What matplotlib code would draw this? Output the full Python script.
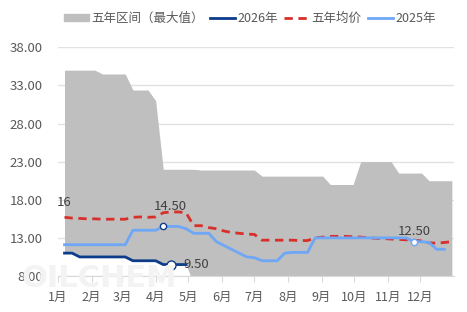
import pandas as pd
import matplotlib
matplotlib.use("Agg")
import matplotlib.pyplot as plt
from matplotlib.patches import Patch
from matplotlib.lines import Line2D
from matplotlib.ticker import FormatStrFormatter

plt.rcParams["font.family"] = ["Noto Sans CJK SC", "DejaVu Sans"]

# weekly observations
weeks = pd.date_range("2026-01-07", periods=52, freq="7D")

# five-year range, top and bottom
range_max = [
    35.0, 35.0, 35.0, 35.0, 35.0, 34.5, 34.5, 34.5, 34.5, 32.4,
    32.4, 32.4, 31.0, 22.0, 22.0, 22.0, 22.0, 22.0, 21.9, 21.9,
    21.9, 21.9, 21.9, 21.9, 21.9, 21.9, 21.1, 21.1, 21.1, 21.1,
    21.1, 21.1, 21.1, 21.1, 21.1, 20.0, 20.0, 20.0, 20.0, 23.0,
    23.0, 23.0, 23.0, 23.0, 21.5, 21.5, 21.5, 21.5, 20.5, 20.5,
    20.5, 20.5,
]
range_min = [
    11.0, 11.0, 10.5, 10.5, 10.5, 10.5, 10.5, 10.5, 10.5, 10.0,
    10.0, 10.0, 10.0, 9.5, 9.5, 9.5, 9.5, 7.0, 7.0, 7.0,
    7.0, 7.0, 7.0, 7.0, 7.0, 7.0, 7.0, 7.0, 7.0, 7.0,
    7.0, 7.0, 7.0, 7.0, 7.0, 7.0, 7.0, 7.0, 7.0, 7.0,
    7.0, 7.0, 7.0, 7.0, 7.0, 7.0, 7.0, 7.0, 7.0, 7.0,
    7.0, 7.0,
]

# five-year average
avg_5y = [
    15.7, 15.6, 15.55, 15.5, 15.5, 15.45, 15.45, 15.45, 15.45, 15.7,
    15.75, 15.7, 15.75, 16.3, 16.4, 16.4, 16.3, 14.6, 14.6, 14.35,
    14.2, 13.9, 13.7, 13.6, 13.5, 13.45, 12.7, 12.7, 12.7, 12.7,
    12.7, 12.65, 12.65, 13.0, 13.1, 13.2, 13.2, 13.2, 13.15, 13.1,
    13.0, 12.95, 12.9, 12.85, 12.8, 12.75, 12.7, 12.6, 12.35, 12.3,
    12.4, 12.5,
]

# 2025
y2025 = [
    12.1, 12.1, 12.1, 12.1, 12.1, 12.1, 12.1, 12.1, 12.1, 14.0,
    14.0, 14.0, 14.0, 14.5, 14.5, 14.5, 14.2, 13.6, 13.6, 13.6,
    12.5, 12.0, 11.5, 11.0, 10.5, 10.4, 10.0, 10.0, 10.0, 11.0,
    11.1, 11.1, 11.1, 13.0, 13.0, 13.0, 13.0, 13.0, 13.0, 13.0,
    13.0, 13.0, 13.0, 13.0, 13.0, 13.0, 12.5, 12.5, 12.4, 11.5,
    11.5, None,
]

# 2026 (so far)
y2026 = [
    11.0, 11.0, 10.5, 10.5, 10.5, 10.5, 10.5, 10.5, 10.5, 10.0,
    10.0, 10.0, 10.0, 9.5, 9.5, 9.5, 9.5,
]

month_starts = pd.date_range("2026-01-01", periods=12, freq="MS")
month_labels = ["1月", "2月", "3月", "4月", "5月", "6月",
                "7月", "8月", "9月", "10月", "11月", "12月"]
y_ticks = [8, 13, 18, 23, 28, 33, 38]

gray = "#bfbfbf"
navy = "#0d3c8a"
red = "#d7302a"
light_blue = "#6ea7f6"
text_color = "#595959"

s2025 = pd.Series(y2025, index=weeks, dtype=float)
s2026 = pd.Series(y2026, index=weeks[:len(y2026)], dtype=float)
s_avg = pd.Series(avg_5y, index=weeks)

fig = plt.figure(figsize=(4.67, 3.12), dpi=100)
ax = fig.add_axes([0.1242, 0.1154, 0.8480, 0.7330])
ax.patch.set_alpha(0)

# faint watermark
fig.text(0.045, 0.08, "OILCHEM", fontsize=22, fontweight="bold",
         color="#f3f3f3", family="DejaVu Sans", zorder=0)

ax.fill_between(weeks, range_min, range_max, color=gray, lw=0, zorder=1)
ax.plot(s_avg.index, s_avg.values, color=red, lw=2.0, ls=(0, (3, 2)), zorder=3)
ax.plot(s2025.index, s2025.values, color=light_blue, lw=2.0, zorder=4)
ax.plot(s2026.index, s2026.values, color=navy, lw=2.0, zorder=5)

# highlighted points
ax.plot(weeks[13], s2025.iloc[13], "o", ms=4.5, mfc="white", mec=navy, mew=1.0, zorder=6)
ax.plot(weeks[14], s2026.iloc[14], "o", ms=6.5, mfc="white", mec=navy, mew=1.0, zorder=6)
ax.plot(weeks[46], s2025.iloc[46], "o", ms=4.5, mfc="white", mec=light_blue, mew=1.0, zorder=6)

ann = dict(textcoords="offset points", ha="center", va="center",
           fontsize=9.5, color="#404040", zorder=7)
ax.annotate("16", xy=(weeks[0], s_avg.iloc[0]), xytext=(0, 11), **ann)
ax.annotate("14.50", xy=(weeks[13], s2025.iloc[13]), xytext=(5, 14), **ann)
ax.annotate("9.50", xy=(weeks[14], s2026.iloc[14]), xytext=(18, 0), **ann)
ax.annotate("12.50", xy=(weeks[46], s2025.iloc[46]), xytext=(0, 7), **ann)

ax.set_xlim(pd.Timestamp("2026-01-01"), pd.Timestamp("2027-01-01"))
ax.set_ylim(8, 38)
ax.set_yticks(y_ticks)
ax.yaxis.set_major_formatter(FormatStrFormatter("%.2f"))
ax.set_xticks(month_starts)
ax.set_xticklabels(month_labels)

ax.set_axisbelow(True)
ax.yaxis.grid(True, color="#e2e2e2", lw=1.0)
for side in ["top", "right", "left"]:
    ax.spines[side].set_visible(False)
ax.spines["bottom"].set_color("#d9d9d9")
ax.spines["bottom"].set_zorder(2)
ax.tick_params(axis="y", length=0, pad=11, labelsize=9.5, labelcolor=text_color)
ax.tick_params(axis="x", length=4, color="#d9d9d9", pad=7, labelsize=9,
               labelcolor=text_color)

handles = [
    Patch(color=gray),
    Line2D([], [], color=navy, lw=2.0),
    Line2D([], [], color=red, lw=2.0, ls=(0, (3, 2))),
    Line2D([], [], color=light_blue, lw=2.0),
]
labels = ["五年区间（最大值）", "2026年", "五年均价", "2025年"]
fig.legend(handles, labels, loc="center", bbox_to_anchor=(0.535, 0.942),
           ncol=4, frameon=False, fontsize=9, handlelength=2.0,
           handleheight=0.5, columnspacing=0.5, handletextpad=0.2,
           labelcolor=text_color)

fig.savefig("out.png", dpi=100)
